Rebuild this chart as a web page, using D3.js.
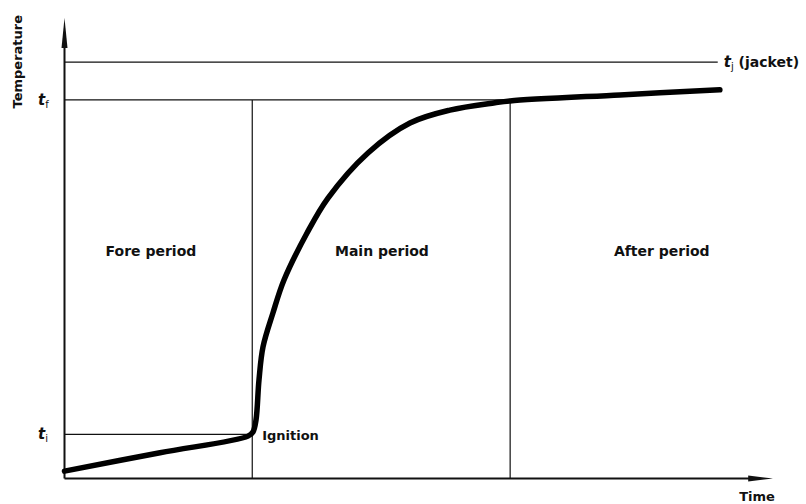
<!DOCTYPE html>
<html><head><meta charset="utf-8">
<script src="https://cdn.jsdelivr.net/npm/d3@7"></script>
<style>
body{margin:0;background:#fff;}
text{font-family:"DejaVu Sans",sans-serif;fill:#111;}
</style></head>
<body><svg id="c" width="806" height="504"></svg>
<script>
// Curve (time, temperature) in arbitrary units
const curveTime = [0, 13.48, 25.9, 26.6, 27.03, 27.45, 28.02, 29.43, 30.98, 34.23, 37.19, 42.83, 48.76, 54.4, 60.76, 62.88, 78.4, 92.5];
const curveTemp = [1.6, 5.6, 9.2, 10.1, 12.7, 21.4, 28.6, 36.0, 43.1, 53.3, 60.9, 70.7, 77.2, 80.0, 81.6, 82.0, 83.3, 84.4];
// Reference levels
const levelValues = [9.6, 82.2, 90.4];
const levelEnds = [26.5, 62.9, 92.2];
// Period boundaries and labels
const boundaries = [26.5, 62.9];
const periodLabels = ["Fore period", "Main period", "After period"];
const periodCenters = [12.2, 44.8, 84.3];
const periodLabelTemp = 49.3;

const svg = d3.select("#c");
const x = d3.scaleLinear().domain([0, 100]).range([64.5, 773]);
const y = d3.scaleLinear().domain([0, 100]).range([478.5, 18]);

// axes
svg.append("line").attr("x1", x(0)).attr("x2", x(0)).attr("y1", y(0)).attr("y2", y(97)).attr("stroke", "#111").attr("stroke-width", 2);
svg.append("path").attr("d", `M${x(0)-3},${y(93.5)} L${x(0)},${y(100)} L${x(0)+3},${y(93.5)} Z`).attr("fill", "#111");
svg.append("line").attr("x1", x(0)).attr("x2", x(98)).attr("y1", y(0)).attr("y2", y(0)).attr("stroke", "#111").attr("stroke-width", 2);
svg.append("path").attr("d", `M${x(96.5)},${y(0)-3} L${x(100)},${y(0)} L${x(96.5)},${y(0)+3} Z`).attr("fill", "#111");

// level lines
levelValues.forEach((v, i) => {
  svg.append("line").attr("x1", x(0)).attr("x2", x(levelEnds[i])).attr("y1", y(v)).attr("y2", y(v))
    .attr("stroke", "#111").attr("stroke-width", 1.2);
});
// boundaries
boundaries.forEach((b) => {
  svg.append("line").attr("x1", x(b)).attr("x2", x(b)).attr("y1", y(levelValues[1])).attr("y2", y(0))
    .attr("stroke", "#111").attr("stroke-width", 1.2);
});

// curve
const pts = curveTime.map((t, i) => [t, curveTemp[i]]);
const line = d3.line().x(d => x(d[0])).y(d => y(d[1])).curve(d3.curveCatmullRom.alpha(0.5));
svg.append("path").attr("d", line(pts)).attr("fill", "none").attr("stroke", "#000")
  .attr("stroke-width", 5.5).attr("stroke-linecap", "round").attr("stroke-linejoin", "round");

// period labels
periodLabels.forEach((l, i) => {
  svg.append("text").attr("x", x(periodCenters[i])).attr("y", y(periodLabelTemp) + 5)
    .attr("text-anchor", "middle").attr("font-size", 14).attr("font-weight", "bold").text(l);
});

// level labels
function tLabel(xp, yp, sub, extra) {
  const t = svg.append("text").attr("x", xp).attr("y", yp).attr("font-size", 15);
  t.append("tspan").attr("font-style", "italic").attr("font-weight", "bold").text("t");
  t.append("tspan").attr("font-size", 10).attr("dy", 3).text(sub);
  if (extra) t.append("tspan").attr("dy", -3).attr("font-size", 14).attr("font-weight", "bold").text(extra);
}
tLabel(38, y(levelValues[0]) + 5, "i");
tLabel(38, y(levelValues[1]) + 5, "f");
tLabel(x(levelEnds[2]) + 6, y(levelValues[2]) + 5, "j", " (jacket)");

svg.append("text").attr("x", x(27.9)).attr("y", y(levelValues[0]) + 6).attr("font-size", 13)
  .attr("font-weight", "bold").text("Ignition");

// axis titles
svg.append("text").attr("transform", `translate(22,${y(90.5)}) rotate(-90)`).attr("text-anchor", "middle")
  .attr("font-size", 13).attr("font-weight", "bold").text("Temperature");
svg.append("text").attr("x", 757).attr("y", 501).attr("text-anchor", "middle")
  .attr("font-size", 13).attr("font-weight", "bold").text("Time");
</script></body></html>
